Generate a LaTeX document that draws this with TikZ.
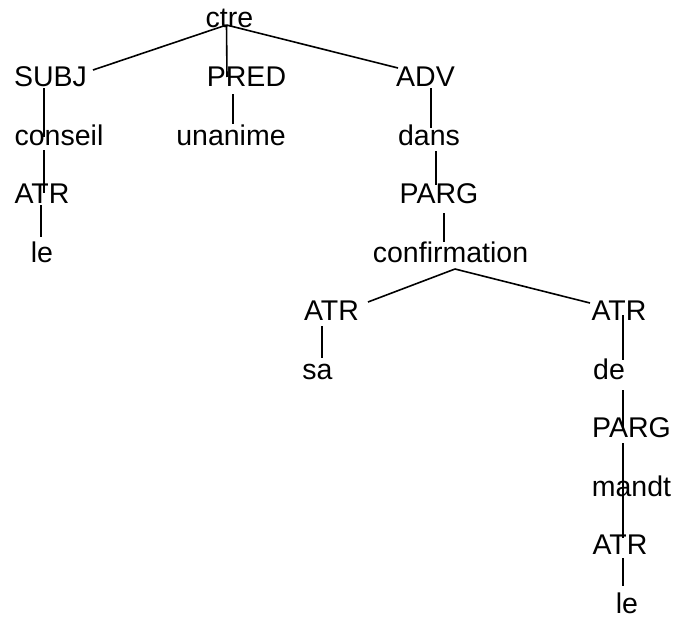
\documentclass[tikz,border=0pt]{standalone}
\usepackage{fontspec}
\setmainfont{Liberation Sans}
\begin{document}
\begin{tikzpicture}[x=1pt,y=-1pt,
  word/.style={inner sep=0pt,anchor=base,font=\fontsize{28.5}{34}\selectfont},
  edge/.style={line width=1.6pt}]
\useasboundingbox (0,0) rectangle (674,618);

% words of the dependency tree (x = centre, y = baseline)
\node[word] (ctre)   at (229.5,28)  {ctre};
\node[word] (subj)   at (50.5,86.5) {SUBJ};
\node[word] (pred)   at (246.5,86.5){PRED};
\node[word] (adv)    at (425.5,86.5){ADV};
\node[word] (cons)   at (59,145)    {conseil};
\node[word] (unan)   at (231,145)   {unanime};
\node[word] (dans)   at (429,145)   {dans};
\node[word] (atrA)   at (42,203.5)  {ATR};
\node[word] (pargA)  at (439,203.5) {PARG};
\node[word] (leA)    at (42,262)    {le};
\node[word] (conf)   at (450.5,262) {confirmation};
\node[word] (atrB)   at (331.5,320.5){ATR};
\node[word] (atrC)   at (619,320.5) {ATR};
\node[word] (sa)     at (317.5,379) {sa};
\node[word] (de)     at (609,379)   {de};
\node[word] (pargB)  at (631.5,437.5){PARG};
\node[word] (mandt)  at (631.5,496) {mandt};
\node[word] (atrD)   at (620,554.5) {ATR};
\node[word] (leB)    at (627,613)   {le};

% end points of the branches
\coordinate (ctre-s)  at (226.5,25);
\coordinate (subj-n)  at (93,70);
\coordinate (pred-n)  at (227,77);
\coordinate (adv-n)   at (398,68);
\coordinate (subj-s)  at (44,88);
\coordinate (cons-n)  at (44,137);
\coordinate (pred-s)  at (233,94);
\coordinate (unan-n)  at (233,124);
\coordinate (adv-s)   at (431,88);
\coordinate (dans-n)  at (431,128);
\coordinate (cons-s)  at (44,150);
\coordinate (atrA-n)  at (44,193);
\coordinate (atrA-s)  at (41,205);
\coordinate (leA-n)   at (41,237);
\coordinate (dans-s)  at (436,151);
\coordinate (pargA-n) at (436,185);
\coordinate (pargA-s) at (444,213);
\coordinate (conf-n)  at (444,242);
\coordinate (conf-s)  at (455,269);
\coordinate (atrB-n)  at (368,302);
\coordinate (atrC-n)  at (590,303);
\coordinate (atrB-s)  at (322,326);
\coordinate (sa-n)    at (322,358);
\coordinate (atrC-s)  at (623,315);
\coordinate (de-n)    at (623,360);
\coordinate (de-s)    at (623,390);
\coordinate (pargB-n) at (623,430);
\coordinate (pargB-s) at (623,443);
\coordinate (mandt-n) at (623,489);
\coordinate (mandt-s) at (623,487);
\coordinate (atrD-n)  at (623,538);
\coordinate (atrD-s)  at (623,558);
\coordinate (leB-n)   at (623,586);

% branches
\draw[edge] (ctre-s) -- (subj-n);
\draw[edge] (ctre-s) -- (pred-n);
\draw[edge] (ctre-s) -- (adv-n);
\draw[edge] (subj-s) -- (cons-n);
\draw[edge] (pred-s) -- (unan-n);
\draw[edge] (adv-s) -- (dans-n);
\draw[edge] (cons-s) -- (atrA-n);
\draw[edge] (atrA-s) -- (leA-n);
\draw[edge] (dans-s) -- (pargA-n);
\draw[edge] (pargA-s) -- (conf-n);
\draw[edge] (conf-s) -- (atrB-n);
\draw[edge] (conf-s) -- (atrC-n);
\draw[edge] (atrB-s) -- (sa-n);
\draw[edge] (atrC-s) -- (de-n);
\draw[edge] (de-s) -- (pargB-n);
\draw[edge] (pargB-s) -- (mandt-n);
\draw[edge] (mandt-s) -- (atrD-n);
\draw[edge] (atrD-s) -- (leB-n);
\end{tikzpicture}
\end{document}
